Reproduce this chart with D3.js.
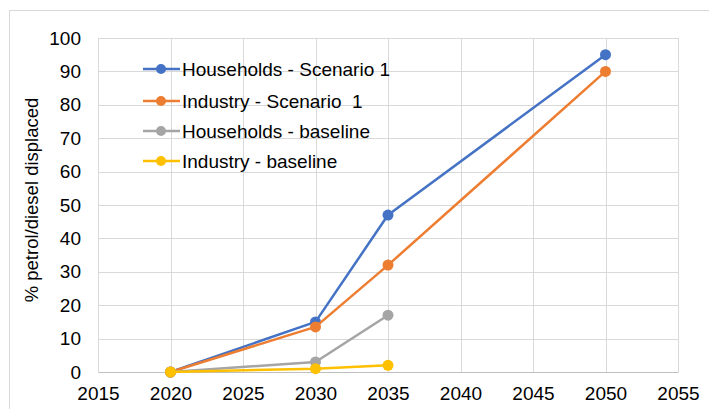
<!DOCTYPE html>
<html>
<head>
<meta charset="utf-8">
<script src="https://cdn.jsdelivr.net/npm/d3@7"></script>
<style>
  body { margin: 0; background: #fff; }
  svg { display: block; font-family: "Liberation Sans", Arial, sans-serif; }
</style>
</head>
<body>
<svg id="chart" width="709" height="409"></svg>
<script>
// Share of petrol/diesel displaced (%) by year
const years = [2020, 2030, 2035, 2050];
const householdsScenario1 = [0, 15, 47, 95];
const industryScenario1 = [0, 13.5, 32, 90];
const householdsBaseline = [0, 3, 17, null];
const industryBaseline = [0, 1, 2, null];

const seriesNames = ["Households - Scenario 1", "Industry - Scenario  1", "Households - baseline", "Industry - baseline"];
const seriesColors = ["#4472C4", "#ED7D31", "#A5A5A5", "#FFC000"];
const xTicks = [2015, 2020, 2025, 2030, 2035, 2040, 2045, 2050, 2055];
const yTicks = [0, 10, 20, 30, 40, 50, 60, 70, 80, 90, 100];

const seriesValues = [householdsScenario1, industryScenario1, householdsBaseline, industryBaseline];
const series = seriesNames.map((name, i) => ({
  name, color: seriesColors[i],
  points: years.map((y, j) => ({ x: y, v: seriesValues[i][j] })).filter(p => p.v != null)
}));

const FONT = 19;
const svg = d3.select("#chart");

// outer chart frame
svg.append("rect").attr("x", 9.5).attr("y", 10.5).attr("width", 710).attr("height", 410)
  .attr("fill", "none").attr("stroke", "#d9d9d9").attr("stroke-width", 1);

const x = d3.scaleLinear().domain([2015, 2055]).range([98, 678]);
const y = d3.scaleLinear().domain([0, 100]).range([372, 38]);

// gridlines
const grid = svg.append("g");
grid.selectAll("line.h").data(yTicks.filter(t => t > 0)).join("line")
  .attr("x1", x(2015)).attr("x2", x(2055))
  .attr("y1", d => Math.round(y(d)) + 0.5).attr("y2", d => Math.round(y(d)) + 0.5)
  .attr("stroke", "#d9d9d9").attr("stroke-width", 1);
grid.selectAll("line.v").data(xTicks).join("line")
  .attr("x1", d => Math.round(x(d)) + 0.5).attr("x2", d => Math.round(x(d)) + 0.5)
  .attr("y1", y(100)).attr("y2", y(0))
  .attr("stroke", "#d9d9d9").attr("stroke-width", 1);

// y axis labels
const yAxis = svg.append("g").attr("transform", `translate(${x(2015)},0)`)
  .call(d3.axisLeft(y).tickValues(yTicks).tickSize(0).tickPadding(17));
yAxis.select(".domain").remove();
yAxis.selectAll("text").attr("font-size", FONT).attr("fill", "#000")
  .attr("font-family", "Liberation Sans, Arial, sans-serif");

// x axis
const xAxis = svg.append("g").attr("transform", `translate(0,${y(0)})`)
  .call(d3.axisBottom(x).tickValues(xTicks).tickFormat(d3.format("d")).tickSize(0).tickPadding(15));
xAxis.select(".domain").attr("stroke", "#bfbfbf").attr("stroke-width", 1.2);
xAxis.selectAll("text").attr("font-size", FONT).attr("fill", "#000")
  .attr("font-family", "Liberation Sans, Arial, sans-serif");

// y axis title
svg.append("text")
  .attr("transform", `translate(38,${(y(0) + y(100)) / 2 - 5}) rotate(-90)`)
  .attr("text-anchor", "middle").attr("font-size", 18.5).attr("fill", "#000")
  .text("% petrol/diesel displaced");

// series lines and markers
const line = d3.line().x(d => x(d.x)).y(d => y(d.v));
const gSeries = svg.append("g");
series.forEach(s => {
  gSeries.append("path").datum(s.points).attr("d", line)
    .attr("fill", "none").attr("stroke", s.color).attr("stroke-width", 2.5)
    .attr("stroke-linejoin", "round");
  gSeries.selectAll(null).data(s.points).join("circle")
    .attr("cx", d => x(d.x)).attr("cy", d => y(d.v)).attr("r", 5.5)
    .attr("fill", s.color);
});

// legend
const legend = svg.append("g");
series.forEach((s, i) => {
  const ly = [69, 101, 131, 161][i];
  legend.append("line").attr("x1", 143).attr("x2", 180).attr("y1", ly).attr("y2", ly)
    .attr("stroke", s.color).attr("stroke-width", 2.5);
  legend.append("circle").attr("cx", 161).attr("cy", ly).attr("r", 5).attr("fill", s.color);
  legend.append("text").attr("x", 182).attr("y", ly).attr("dy", "0.35em")
    .attr("font-size", FONT).attr("fill", "#000").style("white-space", "pre")
    .text(s.name);
});
</script>
</body>
</html>
